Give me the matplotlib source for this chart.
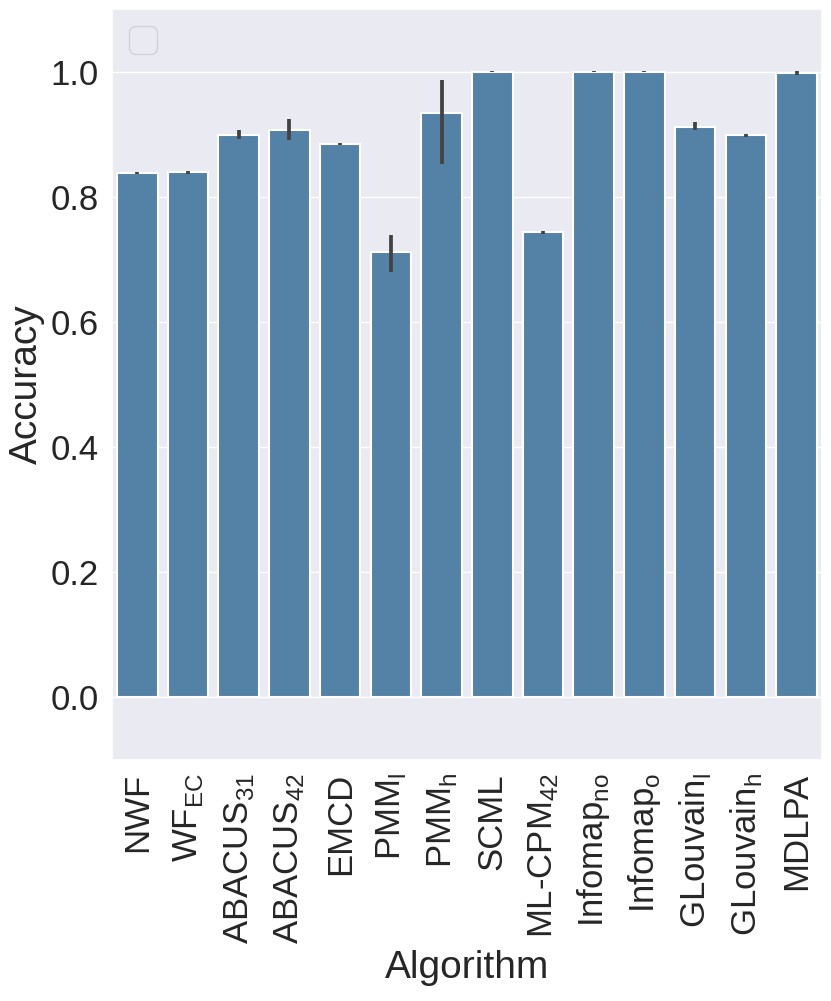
import numpy as np
import matplotlib
matplotlib.use('Agg')
import matplotlib.pyplot as plt
import seaborn as sns

algorithms = ['NWF', r'WF$_\mathregular{EC}$', r'ABACUS$_\mathregular{31}$',
              r'ABACUS$_\mathregular{42}$', 'EMCD', r'PMM$_\mathregular{l}$',
              r'PMM$_\mathregular{h}$', 'SCML', r'ML-CPM$_\mathregular{42}$',
              r'Infomap$_\mathregular{no}$', r'Infomap$_\mathregular{o}$',
              r'GLouvain$_\mathregular{l}$', r'GLouvain$_\mathregular{h}$', 'MDLPA']
accuracy = [0.838, 0.839, 0.899, 0.907, 0.884, 0.711, 0.933, 1.000,
            0.743, 1.000, 1.000, 0.912, 0.898, 0.997]
ci_low = [0.836, 0.837, 0.893, 0.890, 0.882, 0.680, 0.853, 0.999,
          0.741, 0.999, 0.999, 0.906, 0.896, 0.994]
ci_high = [0.840, 0.841, 0.906, 0.924, 0.886, 0.739, 0.986, 1.001,
           0.745, 1.001, 1.001, 0.920, 0.900, 1.001]

sns.set_theme(style='darkgrid')
plt.rcParams['font.family'] = ['Liberation Sans', 'DejaVu Sans']
plt.rcParams['mathtext.fontset'] = 'custom'
plt.rcParams['mathtext.rm'] = 'Liberation Sans'

fig = plt.figure(figsize=(8.31, 10.01), dpi=100)
ax = fig.add_axes([0.1348, 0.241, 0.8542, 0.75])

x = np.arange(len(algorithms))
acc = np.array(accuracy)
yerr = np.vstack([acc - np.array(ci_low), np.array(ci_high) - acc])
ax.bar(x, acc, width=0.8, color=sns.desaturate('steelblue', 0.75),
       edgecolor='white', linewidth=1.5, zorder=2)
ax.errorbar(x, acc, yerr=yerr, fmt='none', ecolor='.26', elinewidth=2.7,
            capsize=0, zorder=3)

ax.set_xlim(-0.5, len(algorithms) - 0.5)
ax.set_ylim(-0.1, 1.1)
ax.set_yticks([0.0, 0.2, 0.4, 0.6, 0.8, 1.0])
ax.set_xticks(x)
ax.set_xticklabels(algorithms, rotation=90)
ax.tick_params(labelsize=25)
ax.xaxis.grid(False)
ax.set_xlabel('Algorithm', fontsize=28)
ax.set_ylabel('Accuracy', fontsize=28)
ax.legend(handles=[], loc='upper left', fontsize=25)

plt.savefig('out.png', dpi=100)
